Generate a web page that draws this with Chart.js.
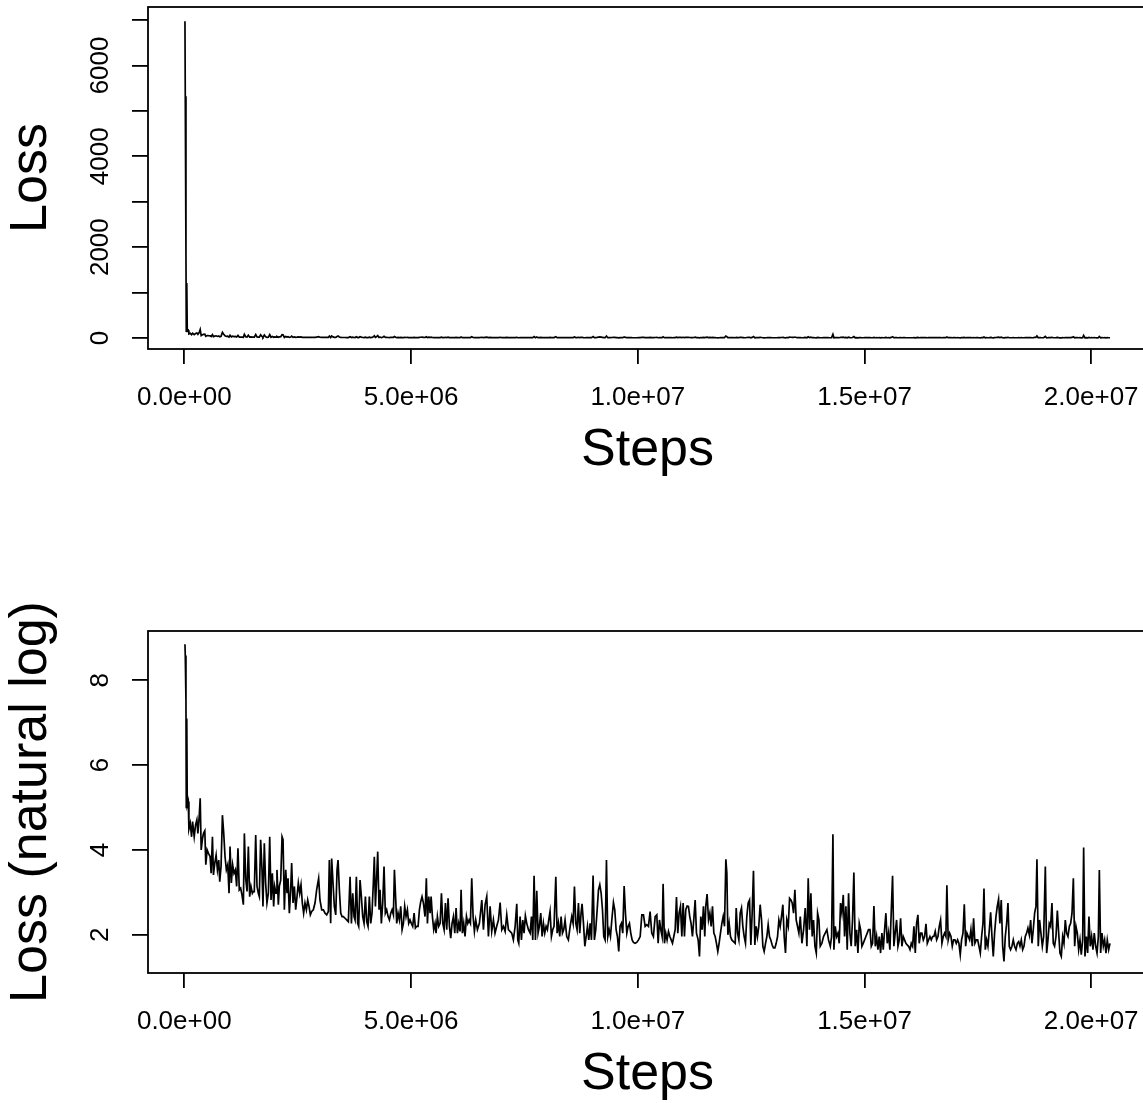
<!DOCTYPE html>
<html>
<head>
<meta charset="utf-8">
<script src="https://cdn.jsdelivr.net/npm/chart.js@4.4.1/dist/chart.umd.min.js"></script>
<style>
html,body{margin:0;padding:0;background:#fff;width:1143px;height:1103px;overflow:hidden;}
#wrap{position:relative;width:1143px;height:1103px;overflow:hidden;background:#fff;}
canvas{position:absolute;left:0;}
#c1{top:0;}
#c2{top:560px;}
</style>
</head>
<body>
<div id="wrap">
<canvas id="c1" width="1147" height="500"></canvas>
<canvas id="c2" width="1147" height="543"></canvas>
</div>
<script>
// ---- Data (steps in millions, loss as natural log) ----
const stepsA = [0.015,0.022,0.037,0.044,0.055,0.066,0.088,0.102,0.132,0.161,
0.183,0.219,0.249,0.278,0.300,0.329,0.351,0.373,0.402,0.424,
0.453,0.475,0.504,0.534,0.570,0.592,0.621,0.643,0.673,0.702,
0.731,0.760,0.782,0.811,0.841,0.870,0.899,0.928,0.958,0.987,
1.009,1.038,1.067,1.096,1.126,1.155,1.184,1.213,1.243,1.272,
1.303,1.325,1.354,1.384,1.413,1.442,1.471,1.501,1.522,1.544,
1.575,1.604,1.633,1.655,1.684,1.714,1.735,1.765,1.794,1.823,
1.854,1.884,1.913,1.942,1.971,1.993,2.023,2.044,2.074,2.096,
2.127,2.156,2.178,2.207,2.237,2.266,2.288,2.317,2.346,2.368,
2.398,2.428,2.457,2.486,2.515,2.545,2.574,2.603,2.632,2.662,
2.693,2.722,2.751,2.780,2.810,2.846,2.883,2.919,2.963,2.992,
3.031,3.068,3.104,3.141,3.177,3.199,3.228,3.250,3.280,3.309,
3.340,3.369,3.391,3.420,3.450,3.479,3.508,3.545,3.581,3.618,
3.656,3.686,3.715,3.744,3.766,3.795,3.824,3.846,3.876,3.905,
3.935,3.964,3.994,4.023,4.052,4.081,4.111,4.140,4.169,4.191,
4.215,4.237,4.266,4.295,4.317,4.346,4.376,4.405,4.434,4.463,
4.495,4.524,4.553,4.582,4.612,4.634,4.663,4.685,4.714,4.743,
4.773,4.803,4.832,4.861,4.890,4.920,4.949,4.978,5.007,5.037,
5.068,5.097,5.126,5.156,5.185,5.214,5.243,5.273,5.309,5.338,
5.362,5.391,5.421,5.443,5.472,5.501,5.530,5.552,5.582,5.611,
5.642,5.671,5.701,5.730,5.759,5.788,5.817,5.847,5.876,5.905,
5.935,5.965,5.994,6.023,6.052,6.082,6.104,6.133,6.162,6.191,
6.223,6.252,6.281,6.310,6.339,6.369,6.398,6.427,6.464,6.508];
const logLossA = [8.85,8.58,7.53,5.00,7.10,5.05,5.14,4.49,4.63,4.31,
4.67,4.31,4.59,4.71,4.39,4.78,5.22,4.00,4.27,4.39,
4.45,3.65,4.00,3.92,3.84,3.45,4.31,3.41,3.69,3.88,
3.53,3.76,3.25,3.61,4.82,4.39,3.84,3.53,3.65,2.98,
4.08,3.22,3.65,3.45,3.53,3.14,4.04,3.06,3.10,2.94,
2.71,4.39,3.33,3.02,4.08,2.90,3.14,2.98,3.02,3.02,
4.35,3.14,2.98,2.90,4.24,3.53,2.67,4.16,3.22,2.75,
2.98,4.31,2.82,3.45,2.67,3.14,2.98,3.53,2.71,3.14,
3.29,4.31,4.24,2.59,3.53,2.98,3.33,2.51,3.06,3.69,
2.75,3.14,2.59,2.90,3.22,2.98,3.18,2.75,2.51,2.75,
2.59,2.82,2.67,2.47,2.55,2.59,2.75,3.06,3.33,2.82,
2.59,2.59,2.51,2.47,2.55,3.76,2.27,3.80,3.22,2.67,
2.47,3.53,3.76,3.06,2.51,2.43,2.43,2.39,2.35,2.31,
3.37,2.27,2.98,2.43,2.35,3.37,2.27,2.20,3.29,2.90,
2.43,2.27,2.90,2.31,2.20,2.90,2.27,2.51,3.22,3.84,
2.67,3.22,3.96,2.59,3.06,2.27,2.75,3.61,2.51,2.59,
2.43,2.35,2.51,2.59,2.47,3.53,2.82,2.27,2.51,2.35,
2.67,2.12,2.27,2.67,2.43,2.59,2.27,2.35,2.27,2.20,
2.51,2.16,2.20,2.20,2.59,2.78,2.90,2.75,2.43,3.33,
2.27,2.90,2.51,2.90,2.43,2.12,2.27,2.04,2.43,2.20,
2.27,2.98,2.27,2.12,2.75,2.12,2.86,2.20,1.92,2.27,
2.43,2.04,2.63,2.04,2.27,2.08,3.06,2.04,2.27,1.96,
2.43,2.27,2.35,2.27,3.33,2.43,2.08,2.35,2.12,2.27];

const stepsB = [6.561,6.597,6.634,6.670,6.707,6.744,6.780,6.817,6.853,6.890,
6.928,6.965,7.002,7.038,7.075,7.111,7.148,7.184,7.221,7.257,
7.296,7.332,7.354,7.376,7.405,7.435,7.464,7.493,7.522,7.552,
7.590,7.627,7.656,7.685,7.714,7.744,7.773,7.802,7.831,7.861,
7.891,7.920,7.949,7.979,8.008,8.037,8.066,8.096,8.125,8.154,
8.193,8.222,8.251,8.280,8.310,8.339,8.368,8.397,8.434,8.470,
8.509,8.545,8.575,8.604,8.633,8.662,8.692,8.721,8.750,8.772,
8.803,8.833,8.862,8.891,8.920,8.950,8.979,9.015,9.044,9.074,
9.105,9.134,9.163,9.193,9.222,9.251,9.280,9.310,9.339,9.368,
9.398,9.428,9.464,9.493,9.523,9.552,9.581,9.610,9.640,9.669,
9.700,9.729,9.759,9.788,9.817,9.846,9.876,9.905,9.941,9.978,
10.016,10.053,10.090,10.126,10.163,10.199,10.236,10.272,10.309,10.345,
10.384,10.420,10.450,10.479,10.508,10.537,10.559,10.589,10.618,10.647,
10.678,10.708,10.737,10.766,10.795,10.825,10.854,10.883,10.912,10.942,
10.972,11.001,11.030,11.059,11.089,11.118,11.147,11.176,11.206,11.235,
11.266,11.295,11.332,11.361,11.390,11.420,11.449,11.478,11.500,11.529,
11.561,11.590,11.619,11.648,11.678,11.707,11.736,11.765,11.794,11.824,
11.855,11.884,11.913,11.943,11.965,11.987,12.016,12.045,12.074,12.111,
12.149,12.171,12.201,12.230,12.259,12.288,12.317,12.347,12.376,12.405,
12.435,12.465,12.494,12.523,12.552,12.582,12.611,12.640,12.669,12.699,
12.730,12.759,12.788,12.818,12.847,12.876,12.905,12.934,12.964,12.993,
13.024,13.053,13.083,13.112,13.141,13.170,13.200,13.229,13.258,13.287,
13.319,13.348,13.377,13.406,13.436,13.465,13.494,13.523,13.553];
const logLossB = [2.82,2.12,2.71,2.90,1.96,2.67,2.08,2.35,2.04,2.20,
2.35,2.76,2.12,2.20,2.08,2.47,2.12,2.08,2.04,1.88,
2.20,2.73,1.88,1.80,2.43,1.88,2.35,2.04,2.45,2.27,
2.12,2.04,2.43,1.88,3.39,1.88,3.04,2.04,2.20,2.51,
1.96,2.27,2.04,2.20,2.12,2.35,2.55,1.96,2.12,2.20,
3.37,2.04,2.27,1.96,2.43,2.04,2.12,2.35,1.96,1.88,
2.20,2.43,2.27,3.14,2.27,2.12,2.75,2.04,2.51,2.73,
2.27,1.73,1.96,2.20,1.88,2.27,1.88,3.40,1.88,2.12,
2.59,3.06,3.18,2.98,2.59,1.96,1.88,3.76,1.96,2.12,
1.96,2.35,2.76,2.59,2.12,1.96,1.61,2.20,2.27,2.04,
3.15,2.51,2.04,2.20,2.27,2.04,1.88,1.82,1.80,1.82,
1.88,1.96,2.47,2.47,2.20,2.24,2.20,2.55,2.04,1.96,
2.43,2.47,1.80,2.35,2.12,1.96,3.20,1.80,2.04,1.88,
2.08,1.96,1.88,1.80,1.96,2.12,2.89,2.04,2.51,2.67,
1.96,2.75,1.96,2.59,2.68,2.67,2.43,2.27,1.96,2.35,
2.82,2.04,1.88,1.49,2.43,2.12,2.67,1.96,2.67,2.96,
2.35,2.51,2.20,2.67,2.04,1.96,1.80,1.61,1.80,2.04,
2.27,2.43,2.20,3.78,3.45,2.00,2.27,1.96,1.88,1.84,
1.80,2.63,2.04,1.88,2.51,2.63,2.20,1.96,1.80,2.43,
2.75,2.82,1.76,2.51,3.51,1.76,2.20,1.96,2.20,2.71,
2.35,1.73,1.61,1.80,1.96,2.24,1.96,1.88,1.76,1.69,
1.69,1.80,1.96,2.35,2.20,2.43,2.71,1.96,1.57,2.35,
2.20,2.86,2.82,2.75,2.51,3.06,2.35,2.20,2.04];

const stepsC = [13.584,13.620,13.657,13.693,13.730,13.759,13.788,13.818,13.847,13.876,
13.907,13.937,13.966,13.995,14.024,14.061,14.097,14.134,14.171,14.207,
14.246,14.275,14.304,14.326,14.355,14.385,14.414,14.443,14.472,14.502,
14.532,14.561,14.590,14.619,14.649,14.678,14.707,14.736,14.766,14.795,
14.826,14.855,14.885,14.914,14.943,14.972,15.002,15.031,15.060,15.089,
15.121,15.150,15.179,15.208,15.238,15.267,15.296,15.325,15.355,15.384,
15.414,15.443,15.472,15.502,15.531,15.560,15.589,15.619,15.648,15.677,
15.708,15.738,15.767,15.796,15.825,15.855,15.884,15.913,15.942,15.972,
16.003,16.032,16.061,16.090,16.120,16.149,16.178,16.207,16.237,16.266,
16.297,16.326,16.356,16.385,16.414,16.443,16.473,16.502,16.531,16.560,
16.591,16.620,16.649,16.678,16.708,16.737,16.766,16.795,16.817,16.846,
16.878,16.907,16.936,16.965,16.995,17.024,17.053,17.082,17.112,17.141,
17.172,17.201,17.231,17.260,17.289,17.318,17.347,17.377,17.406,17.435,
17.466,17.496,17.525,17.554,17.583,17.613,17.635,17.664,17.693,17.722,
17.753,17.782,17.811,17.840,17.869,17.899,17.928,17.957,17.986,18.016,
18.047,18.076,18.105,18.135,18.164,18.193,18.222,18.252,18.281,18.310,
18.341,18.371,18.400,18.429,18.458,18.488,18.517,18.546,18.575,18.604,
18.635,18.664,18.693,18.722,18.752,18.781,18.803,18.832,18.861,18.891,
18.922,18.951,18.988,19.017,19.046,19.075,19.104,19.134,19.163,19.192,
19.223,19.253,19.282,19.311,19.340,19.370,19.399,19.428,19.457,19.487,
19.518,19.547,19.576,19.606,19.635,19.664,19.693,19.723,19.752,19.781,
19.811,19.833,19.862,19.892,19.921,19.950,19.979,20.009,20.038,20.067,
20.098,20.128,20.157,20.179,20.208,20.237,20.267,20.296,20.325,20.354,
20.385,20.414];
const logLossC = [2.43,1.80,2.12,2.63,1.73,3.33,2.12,2.98,1.96,2.35,
1.73,1.57,2.51,2.35,1.73,1.80,1.96,2.04,2.12,1.88,
1.73,1.96,4.37,1.65,2.20,1.96,2.04,1.80,2.75,2.51,
2.94,1.96,2.67,1.65,2.98,2.04,1.73,2.35,3.47,1.73,
2.12,1.57,2.27,2.12,1.73,1.80,1.88,1.96,2.04,2.12,
2.12,1.73,1.80,2.68,1.73,1.96,1.65,1.96,1.57,2.04,
1.65,2.12,2.51,1.80,2.04,1.65,2.51,3.39,1.73,2.04,
2.35,1.73,1.88,2.39,1.73,1.96,1.88,1.80,1.76,1.73,
1.65,1.80,1.73,2.20,1.57,2.27,2.47,1.80,2.04,2.04,
1.88,1.96,2.26,1.80,1.88,1.96,1.88,1.96,1.96,2.08,
1.88,1.96,2.20,2.35,1.80,1.96,2.04,1.96,3.17,1.88,
2.04,1.96,1.73,1.88,1.88,1.80,1.88,1.80,1.53,1.88,
2.04,2.72,1.73,2.04,1.96,1.88,2.12,1.73,2.39,1.80,
1.88,1.88,1.73,1.57,1.96,2.27,3.09,1.65,1.88,1.73,
2.12,2.53,1.96,1.49,2.04,2.43,2.67,2.84,2.27,2.82,
1.73,1.37,1.96,2.27,2.75,1.73,1.65,1.73,1.88,1.73,
1.65,1.80,1.84,1.73,1.88,1.65,1.73,1.96,2.04,2.16,
2.00,2.35,1.80,2.12,2.51,2.67,3.78,1.73,2.35,2.04,
1.73,1.96,3.61,1.57,1.88,2.27,2.20,2.75,1.80,1.73,
1.96,2.57,2.04,1.57,1.49,1.96,1.80,2.35,2.04,1.96,
2.20,2.27,2.51,3.33,1.73,2.20,2.04,1.65,1.88,1.53,
1.88,4.06,1.49,1.96,1.57,2.43,1.73,1.96,1.65,2.04,
1.73,1.57,1.96,3.53,1.57,2.04,1.73,1.88,1.57,1.88,
1.65,1.80];

// Tick values and labels
const xTickValues = [0, 5e6, 1e7, 1.5e7, 2e7];
const xTickLabels = ['0.0e+00', '5.0e+06', '1.0e+07', '1.5e+07', '2.0e+07'];
const lossTickValues = [0, 1000, 2000, 3000, 4000, 5000, 6000, 7000];
const lossTickLabels = ['0', '', '2000', '', '4000', '', '6000', ''];
const logTickValues = [2, 4, 6, 8];
const logTickLabels = ['2', '4', '6', '8'];

// ---- Build series ----
const stepsMillions = stepsA.concat(stepsB, stepsC);
const lossNaturalLog = logLossA.concat(logLossB, logLossC);
// upper panel shows the same loss on its original scale (lower panel is its natural log)
const lossRaw = lossNaturalLog.map(v => Math.exp(v));

const logPoints = stepsMillions.map((s, i) => ({x: s * 1e6, y: lossNaturalLog[i]}));
const rawPoints = stepsMillions.map((s, i) => ({x: s * 1e6, y: lossRaw[i]}));

const FONT = "'Liberation Sans', Arial, Helvetica, sans-serif";
const BLACK = '#000000';

const boxPlugin = {
  id: 'rbox',
  afterDatasetsDraw(chart) {
    const a = chart.chartArea, ctx = chart.ctx;
    ctx.save();
    ctx.strokeStyle = BLACK;
    ctx.lineWidth = 1.8;
    ctx.strokeRect(a.left, a.top, a.right - a.left, a.bottom - a.top);
    ctx.restore();
  }
};

function zeroPad(s) {
  s.paddingLeft = 0; s.paddingRight = 0; s.paddingTop = 0; s.paddingBottom = 0;
}

function buildChart(canvasId, points, cfg) {
  return new Chart(document.getElementById(canvasId), {
    type: 'line',
    data: { datasets: [{ data: points, borderColor: BLACK, borderWidth: 1.7, pointRadius: 0, tension: 0, fill: false }] },
    plugins: [boxPlugin],
    options: {
      responsive: false,
      animation: false,
      devicePixelRatio: 1,
      parsing: false,
      layout: { padding: { top: cfg.padTop, left: 0, right: 0, bottom: 0 } },
      plugins: { legend: { display: false }, tooltip: { enabled: false }, title: { display: false } },
      scales: {
        x: {
          type: 'linear', position: 'bottom',
          min: -0.80e6, max: 21.23e6,
          afterBuildTicks: s => { s.ticks = xTickValues.map(v => ({ value: v })); },
          afterFit: s => { s.height = cfg.xAxisHeight; zeroPad(s); },
          grid: { display: true, drawOnChartArea: false, drawTicks: true, tickLength: 15, color: BLACK, lineWidth: 1.8 },
          border: { display: false },
          ticks: {
            autoSkip: false, maxRotation: 0, minRotation: 0, padding: 18,
            color: BLACK, font: { family: FONT, size: 26, lineHeight: 1.2 },
            callback: v => xTickLabels[xTickValues.indexOf(v)]
          },
          title: {
            display: true, text: 'Steps', color: BLACK,
            font: { family: FONT, size: 52, lineHeight: 1 },
            padding: { top: 0, bottom: cfg.xTitlePad }
          }
        },
        y: {
          type: 'linear', position: 'left',
          min: cfg.yMin, max: cfg.yMax,
          afterBuildTicks: s => { s.ticks = cfg.yTicks.map(v => ({ value: v })); },
          afterFit: s => { s.width = 148; zeroPad(s); },
          grid: { display: true, drawOnChartArea: false, drawTicks: true, tickLength: 16, color: BLACK, lineWidth: 1.8 },
          border: { display: false },
          ticks: {
            autoSkip: false, minRotation: 90, maxRotation: 90, crossAlign: 'center',
            padding: cfg.yTickPad, color: BLACK, font: { family: FONT, size: 26, lineHeight: 1.2 },
            callback: v => cfg.yLabels[cfg.yTicks.indexOf(v)]
          },
          title: {
            display: true, text: cfg.yTitle, color: BLACK,
            font: { family: FONT, size: 52, lineHeight: 1 },
            padding: { top: 6, bottom: 0 }
          }
        }
      }
    }
  });
}

buildChart('c1', rawPoints, {
  padTop: 7, xAxisHeight: 151, xTitlePad: 23,
  yMin: -242, yMax: 7286, yTicks: lossTickValues, yLabels: lossTickLabels,
  yTickPad: 2, yTitle: 'Loss'
});
buildChart('c2', logPoints, {
  padTop: 71, xAxisHeight: 130, xTitlePad: 2,
  yMin: 1.10, yMax: 9.16, yTicks: logTickValues, yLabels: logTickLabels,
  yTickPad: 24, yTitle: 'Loss (natural log)'
});
</script>
</body>
</html>
